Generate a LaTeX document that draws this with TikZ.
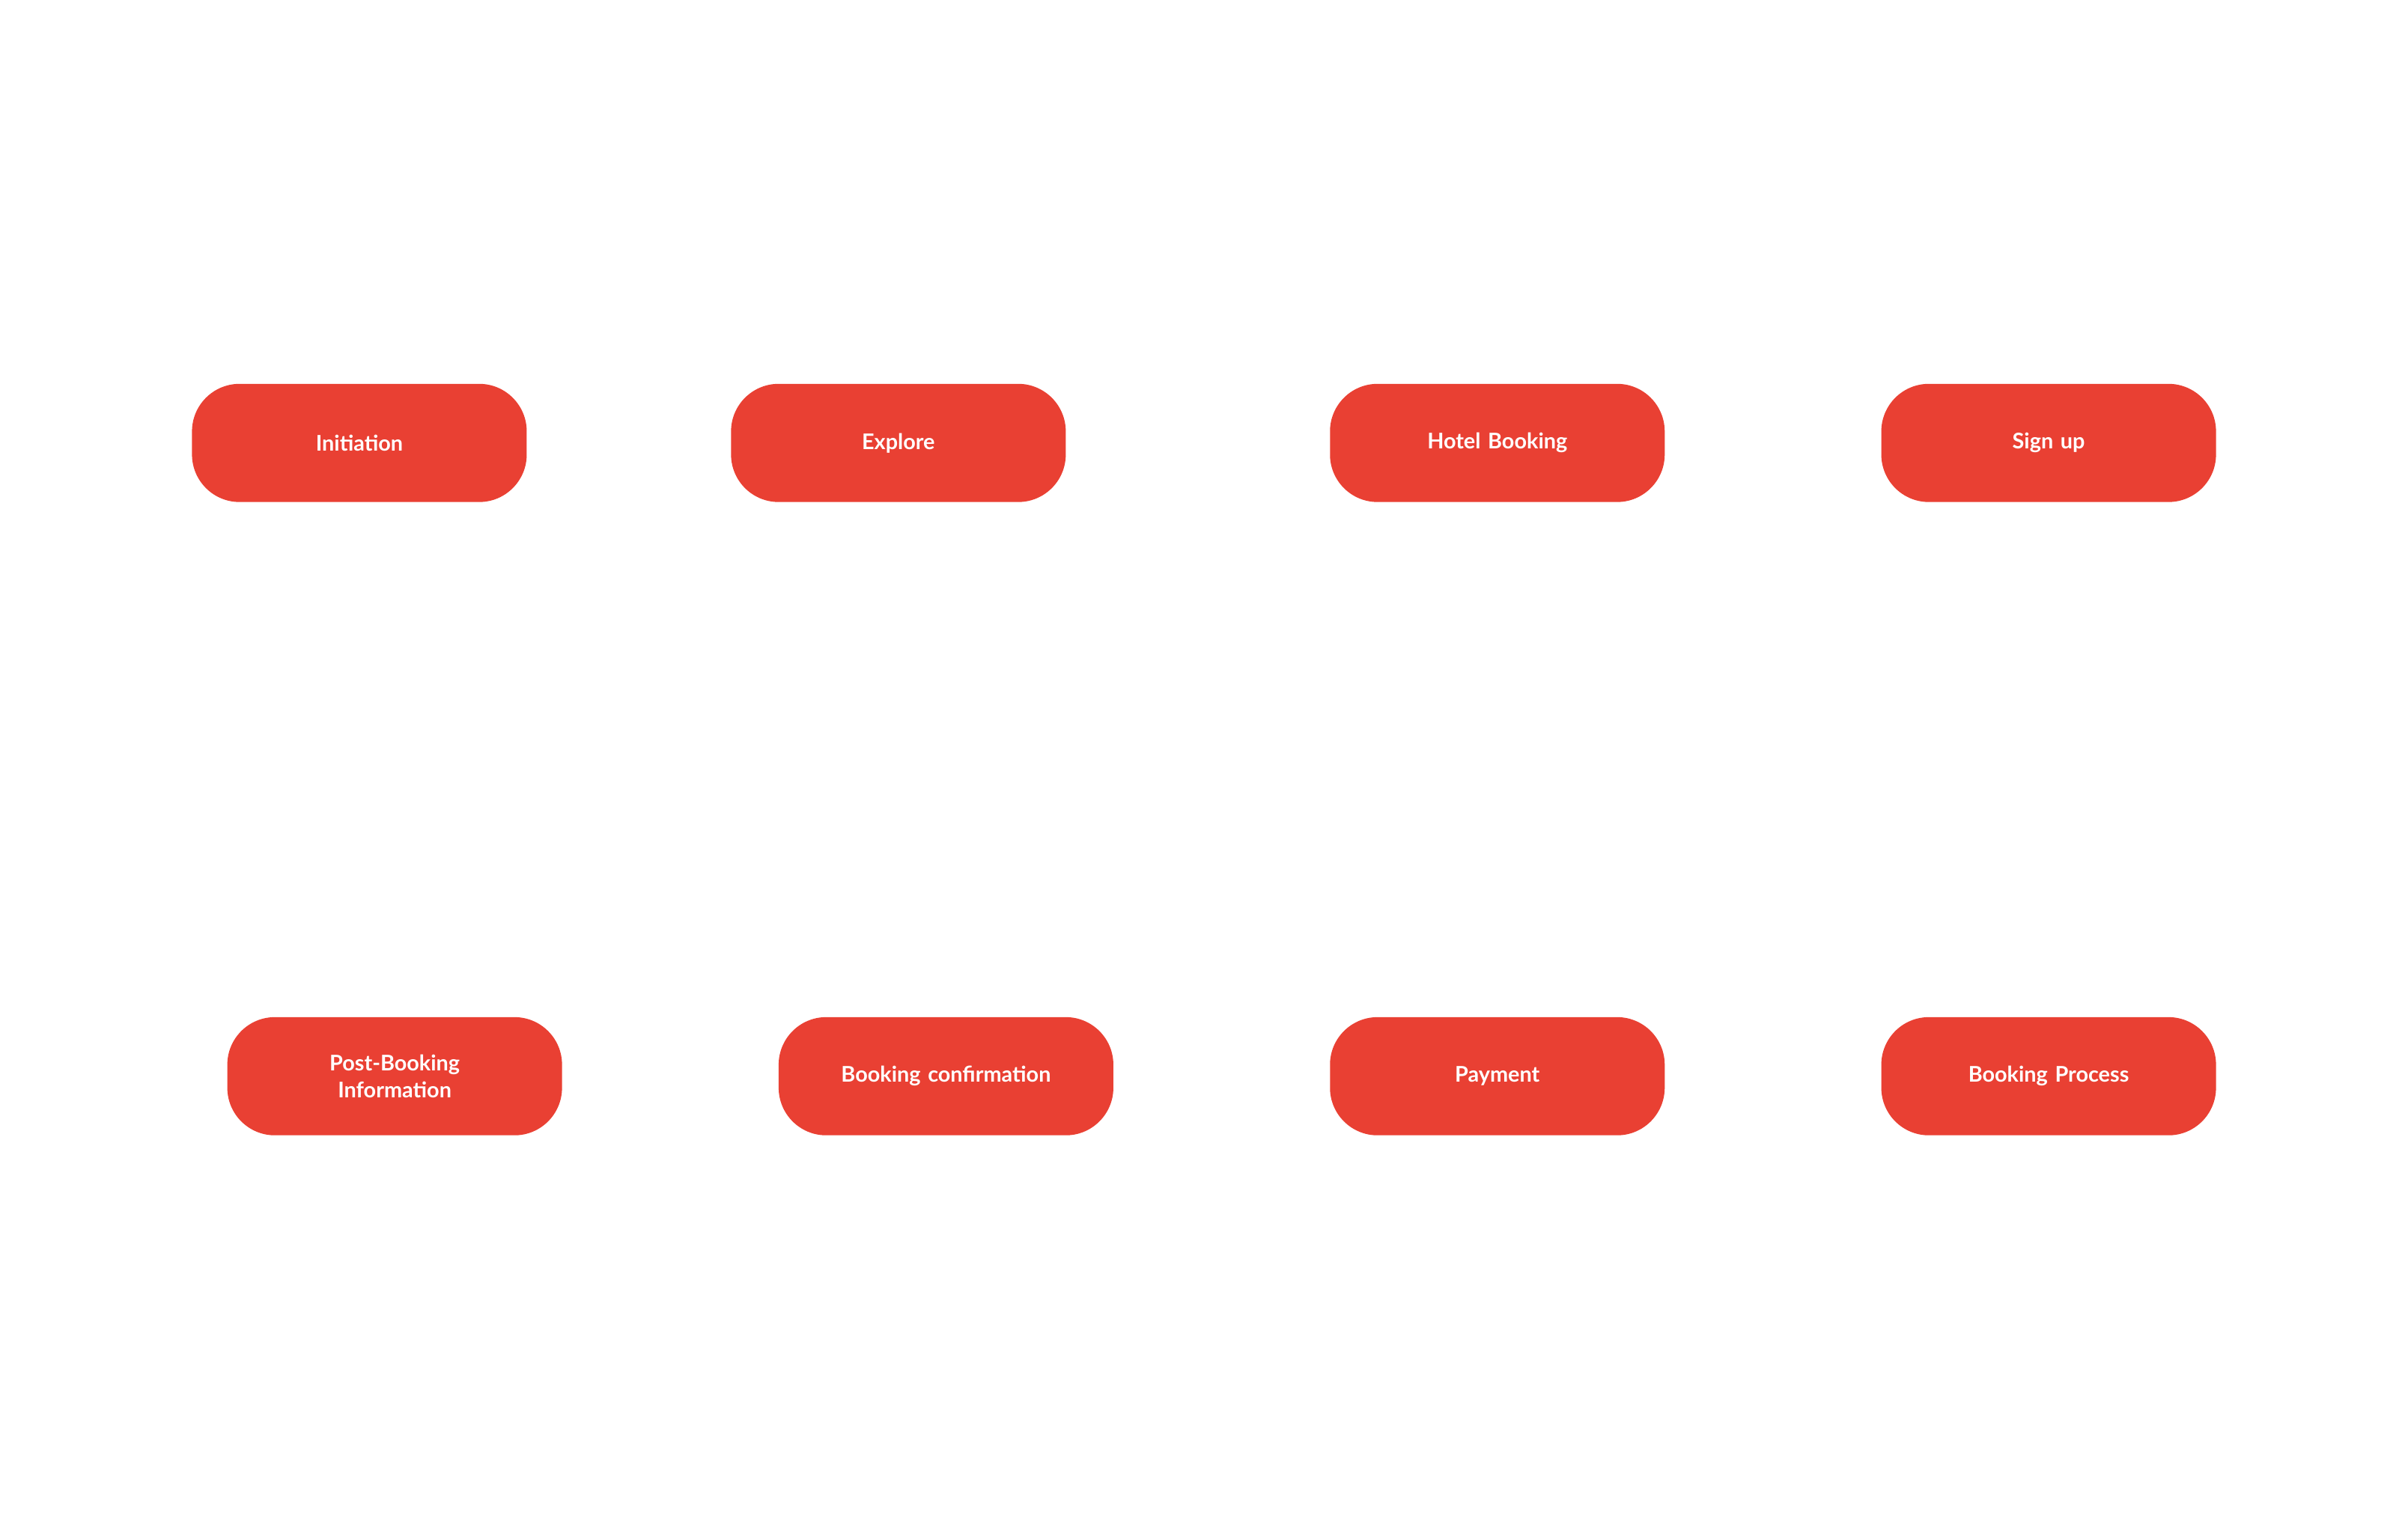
\documentclass[tikz,border=0pt]{standalone}
\usepackage{fontspec}
\setmainfont{Lato}
\usetikzlibrary{positioning}
\definecolor{stepred}{HTML}{E94033}
\begin{document}
\begin{tikzpicture}[x=0.02cm, y=-0.02cm]
\tikzset{
  stage/.style={
    rectangle,
    rounded corners=0.62cm,
    fill=stepred,
    draw=none,
    text=white,
    font=\fontsize{8pt}{10pt}\selectfont\bfseries,
    text width=4cm,
    minimum width=4.36cm,
    minimum height=1.54cm,
    align=center},
}
\useasboundingbox (0,0) rectangle (1568,992.6);
% top row
\node[stage] (init) at (234,288.5) {Initiation};
\node[stage] (explore) at (585,288.5) {Explore};
\node[stage] (hotel) at (975,288.5) {Hotel Booking};
\node[stage] (signup) at (1334,288.5) {Sign up};
% bottom row
\node[stage] (post) at (257,701) {Post-Booking\\Information};
\node[stage] (confirm) at (616,701) {Booking confirmation};
\node[stage] (payment) at (975,701) {Payment};
\node[stage] (process) at (1334,701) {Booking Process};
\end{tikzpicture}
\end{document}
